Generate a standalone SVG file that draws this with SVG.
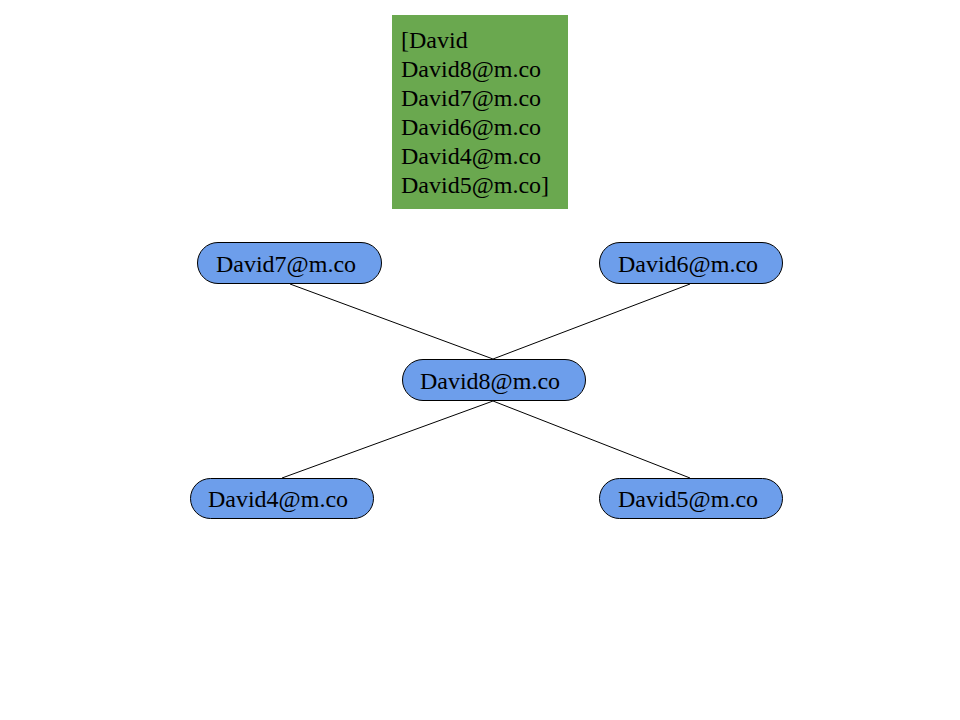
<svg xmlns="http://www.w3.org/2000/svg" width="960" height="720" viewBox="0 0 960 720">
<style>
.n{fill:#6d9eeb;stroke:#000;stroke-width:1}
.t{font-family:"Liberation Serif",serif;font-size:24px;fill:#000}
.e{stroke:#000;stroke-width:1;fill:none}
</style>
<rect width="960" height="720" fill="#fff"/>
<g id="note">
<rect x="392" y="15" width="176" height="194" fill="#6aa84f"/>
<text class="t" x="401" y="48">[David</text>
<text class="t" x="401" y="77">David8@m.co</text>
<text class="t" x="401" y="106">David7@m.co</text>
<text class="t" x="401" y="135">David6@m.co</text>
<text class="t" x="401" y="164">David4@m.co</text>
<text class="t" x="401" y="193">David5@m.co]</text>
</g>
<g id="edges">
<line class="e" x1="290" y1="284" x2="493" y2="359"/>
<line class="e" x1="690" y1="284" x2="493" y2="359"/>
<line class="e" x1="493" y1="401" x2="282" y2="478"/>
<line class="e" x1="493" y1="401" x2="690" y2="478"/>
</g>
<g id="david7">
<rect class="n" x="197.5" y="242.5" width="184" height="41" rx="20.5"/>
<text class="t" x="286" y="272" text-anchor="middle">David7@m.co</text>
</g>
<g id="david6">
<rect class="n" x="599.5" y="242.5" width="183" height="41" rx="20.5"/>
<text class="t" x="688" y="272" text-anchor="middle">David6@m.co</text>
</g>
<g id="david8">
<rect class="n" x="402.5" y="359.5" width="183" height="41" rx="20.5"/>
<text class="t" x="490" y="389" text-anchor="middle">David8@m.co</text>
</g>
<g id="david4">
<rect class="n" x="190.5" y="478.5" width="183" height="40" rx="20"/>
<text class="t" x="278" y="507" text-anchor="middle">David4@m.co</text>
</g>
<g id="david5">
<rect class="n" x="599.5" y="478.5" width="183" height="40" rx="20"/>
<text class="t" x="688" y="507" text-anchor="middle">David5@m.co</text>
</g>
</svg>
